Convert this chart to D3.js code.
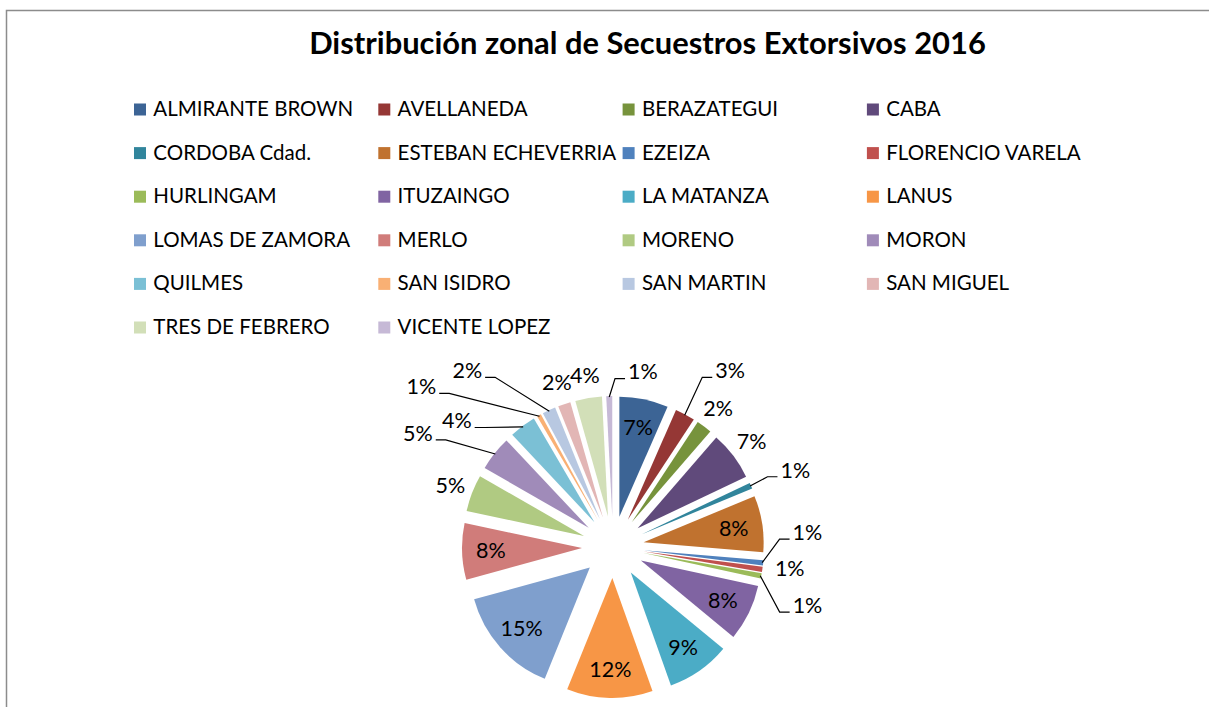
<!DOCTYPE html>
<html>
<head>
<meta charset="utf-8">
<script src="https://cdn.jsdelivr.net/npm/d3@7"></script>
<style>
  html, body { margin: 0; padding: 0; background: #fff; }
  svg { display: block; }
</style>
</head>
<body>
<svg id="chart" width="1209" height="707"></svg>
<script>
// data (values in % of total, labels are rounded)
const title = "Distribución zonal de Secuestros Extorsivos 2016";

const categories = [
  "ALMIRANTE BROWN", "AVELLANEDA", "BERAZATEGUI", "CABA",
  "CORDOBA Cdad.", "ESTEBAN ECHEVERRIA", "EZEIZA", "FLORENCIO VARELA",
  "HURLINGAM", "ITUZAINGO", "LA MATANZA", "LANUS",
  "LOMAS DE ZAMORA", "MERLO", "MORENO", "MORON",
  "QUILMES", "SAN ISIDRO", "SAN MARTIN", "SAN MIGUEL",
  "TRES DE FEBRERO", "VICENTE LOPEZ"
];

const values = [
  6.6, 2.7, 2.1, 6.6,
  0.8, 7.6, 0.7, 0.7,
  0.7, 7.6, 8.6, 11.6,
  14.65, 7.6, 5.0, 4.7,
  3.6, 0.55, 1.8, 1.7,
  3.6, 0.8
];

// Excel 2007 style palette: dark shades, base, light tints, lighter tints
const colors = [
  "#3c6495", "#953735", "#77933c", "#604a7b",
  "#31859c", "#c0722f", "#4f81bd", "#c0504d",
  "#9bbb59", "#8064a2", "#4bacc6", "#f79646",
  "#7f9fcd", "#d07c7a", "#b0ca82", "#a08bb9",
  "#7bc0d5", "#f9b074", "#b8c8e1", "#e2b6b5",
  "#d2dfb8", "#c6b9d6"
];

// how each data label is placed: inside, outside, outside with leader line
const labelMode = [
  "in", "lead", "out", "out",
  "lead", "in", "lead", "out",
  "lead", "in", "in", "in",
  "in", "in", "out", "lead",
  "lead", "lead", "lead", "out",
  "out", "lead"
];
// best-fit moves for crowded labels: [angle shift in degrees, distance from centre]
const labelMove = {
  1: [5.0, 212], 4: [1.0, 198], 6: [-10.4, 195], 7: [-1.7, 178], 8: [5.6, 203],
  15: [-8.0, 226], 16: [-14.2, 201], 17: [-20.7, 250], 18: [-14.4, 229], 21: [11.1, 178]
};

const svg = d3.select("#chart");

// chart area frame
svg.append("rect")
  .attr("x", 6.5).attr("y", 10.5)
  .attr("width", 1215).attr("height", 710)
  .attr("fill", "#fff")
  .attr("stroke", "#8c8c8c")
  .attr("stroke-width", 1.5);

const font = "Lato, 'Open Sans', 'Liberation Sans', sans-serif";

// title, fitted to the width of the original
const titleEl = svg.append("text")
  .attr("x", 647.5).attr("y", 54)
  .attr("text-anchor", "middle")
  .attr("font-family", font)
  .attr("font-weight", "bold")
  .attr("font-size", 26)
  .attr("fill", "#000")
  .text(title);
{
  const w = titleEl.node().getComputedTextLength();
  titleEl.attr("font-size", 26 * 677 / w);
}

// legend: 4 columns, row-major
const legendCols = 4;
const colX = d3.scaleLinear().domain([0, 1]).range([134, 378.3]);
const rowY = d3.scaleLinear().domain([0, 1]).range([116, 159.6]);

const probe = svg.append("text")
  .attr("font-family", font).attr("font-size", 20)
  .text(categories[0]);
const legendSize = 20 * 200 / probe.node().getComputedTextLength();
probe.remove();

const legend = svg.append("g");
const item = legend.selectAll("g")
  .data(categories)
  .join("g")
  .attr("transform", (d, i) => `translate(${colX(i % legendCols)},${rowY(Math.floor(i / legendCols))})`);

item.append("rect")
  .attr("x", 0).attr("y", -12.5)
  .attr("width", 12).attr("height", 12)
  .attr("fill", (d, i) => colors[i]);

item.append("text")
  .attr("x", 19.3).attr("y", 0)
  .attr("font-family", font)
  .attr("font-size", legendSize)
  .attr("fill", "#000")
  .text(d => d);

// exploded pie
const cx = 613, cy = 547, r = 120, explode = 31;
const total = d3.sum(values);

const pie = d3.pie().sort(null).value(d => d);
const arcs = pie(values);
const arc = d3.arc().innerRadius(0).outerRadius(r);

const mid = d => (d.startAngle + d.endAngle) / 2;
const polar = (a, dist) => [cx + dist * Math.sin(a), cy - dist * Math.cos(a)];

const pieG = svg.append("g");
pieG.selectAll("path")
  .data(arcs)
  .join("path")
  .attr("d", arc)
  .attr("fill", (d, i) => colors[i])
  .attr("transform", d => {
    const [x, y] = polar(mid(d), explode);
    return `translate(${x},${y})`;
  });

// data labels
const labelSize = 21.5;
const labelG = svg.append("g")
  .attr("font-family", font)
  .attr("font-size", labelSize)
  .attr("fill", "#000");

arcs.forEach((d, i) => {
  const pct = Math.round(d.value / total * 100) + "%";
  let a = mid(d), dist;
  if (labelMode[i] === "in") {
    dist = explode + r * 0.76;
  } else {
    dist = 174;
    if (labelMove[i]) {
      a += labelMove[i][0] * Math.PI / 180;
      dist = labelMove[i][1];
    }
  }
  const [lx, ly] = polar(a, dist);
  const t = labelG.append("text")
    .attr("x", lx).attr("y", ly)
    .attr("text-anchor", "middle")
    .attr("dy", "0.36em")
    .text(pct);

  if (labelMode[i] === "lead") {
    const w = t.node().getComputedTextLength();
    const start = polar(mid(d), explode + r - 1);
    const right = lx > start[0];
    const endX = right ? lx - w / 2 - 3 : lx + w / 2 + 3;
    const endY = ly + 7;
    const elbowX = right ? endX - 10 : endX + 10;
    svg.append("polyline")
      .attr("points", [start, [elbowX, endY], [endX, endY]].map(p => p.join(",")).join(" "))
      .attr("fill", "none")
      .attr("stroke", "#000")
      .attr("stroke-width", 1.2);
  }
});
</script>
</body>
</html>
